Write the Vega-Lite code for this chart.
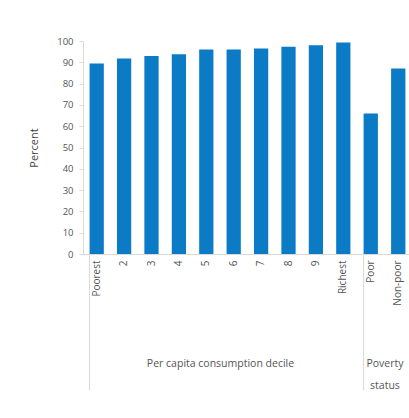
{
  "$schema": "https://vega.github.io/schema/vega-lite/v6.json",
  "padding": {"left": 28, "top": 36, "right": 0, "bottom": 0},
  "spacing": 0,
  "config": {
    "view": {"stroke": null},
    "font": "Open Sans",
    "axis": {"labelColor": "#555555", "titleColor": "#444444", "labelFont": "Open Sans", "titleFont": "Open Sans", "titleFontWeight": "normal", "labelFontSize": 10, "titleFontSize": 11, "domainColor": "#d9d9d9", "tickColor": "#d9d9d9", "grid": false, "labelOverlap": false}
  },
  "datasets": {
    "decile": [
      {"cat": "Poorest", "pct": 89.4},
      {"cat": "2", "pct": 91.8},
      {"cat": "3", "pct": 93},
      {"cat": "4", "pct": 93.8},
      {"cat": "5", "pct": 96},
      {"cat": "6", "pct": 96},
      {"cat": "7", "pct": 96.5},
      {"cat": "8", "pct": 97.3},
      {"cat": "9", "pct": 98},
      {"cat": "Richest", "pct": 99.3}
    ],
    "poverty": [
      {"cat": "Poor", "pct": 66},
      {"cat": "Non-poor", "pct": 87.1}
    ]
  },
  "hconcat": [
    {
      "width": 274,
      "height": 213,
      "data": {"name": "decile"},
      "layer": [
        {
          "mark": {"type": "bar", "color": "#0b7bc6"},
          "encoding": {
            "x": {"field": "cat", "type": "nominal",
              "sort": ["Poorest", "2", "3", "4", "5", "6", "7", "8", "9", "Richest"],
              "scale": {"paddingInner": 0.48, "paddingOuter": 0.24},
              "axis": {"title": "Per capita consumption decile", "labelAngle": -90, "labelAlign": "right", "labelBaseline": "middle", "labelPadding": 6, "ticks": false, "titlePadding": 62, "titleFontSize": 10.5, "titleColor": "#555555"}},
            "y": {"field": "pct", "type": "quantitative",
              "scale": {"domain": [0, 100], "nice": false},
              "axis": {"title": "Percent", "values": [0,10,20,30,40,50,60,70,80,90,100], "tickSize": 4, "labelPadding": 6, "titlePadding": 17, "domain": true, "labelFontSize": 9.5}}
          }
        },
        {
          "data": {"values": [{"cat": "Poorest"}]},
          "mark": {"type": "rule", "color": "#d9d9d9", "strokeWidth": 1},
          "encoding": {
            "x": {"field": "cat", "type": "nominal", "bandPosition": 0,
              "sort": ["Poorest", "2", "3", "4", "5", "6", "7", "8", "9", "Richest"]},
            "y": {"datum": 0, "type": "quantitative",
              "scale": {"domain": [0, 100], "nice": false},
              "axis": {"title": "Percent", "values": [0,10,20,30,40,50,60,70,80,90,100], "tickSize": 4, "labelPadding": 6, "titlePadding": 17, "domain": true, "labelFontSize": 9.5}},
            "y2": {"datum": -64}
          }
        }
      ]
    },
    {
      "width": 55,
      "height": 213,
      "data": {"name": "poverty"},
      "layer": [
        {
          "mark": {"type": "bar", "color": "#0b7bc6"},
          "encoding": {
            "x": {"field": "cat", "type": "nominal", "sort": ["Poor", "Non-poor"],
              "scale": {"paddingInner": 0.48, "paddingOuter": 0.24},
              "axis": {"title": ["Poverty", "status"], "labelAngle": -90, "labelAlign": "right", "labelBaseline": "middle", "labelPadding": 6, "ticks": false, "titlePadding": 53, "titleFontSize": 10.5, "titleColor": "#555555", "titleLineHeight": 22}},
            "y": {"field": "pct", "type": "quantitative",
              "scale": {"domain": [0, 100], "nice": false},
              "axis": null}
          }
        },
        {
          "data": {"values": [{"cat": "Poor"}]},
          "mark": {"type": "rule", "color": "#d9d9d9", "strokeWidth": 1},
          "encoding": {
            "x": {"field": "cat", "type": "nominal", "bandPosition": 0, "sort": ["Poor", "Non-poor"]},
            "y": {"datum": 0, "type": "quantitative", "scale": {"domain": [0, 100], "nice": false}, "axis": null},
            "y2": {"datum": -64}
          }
        }
      ]
    }
  ]
}
